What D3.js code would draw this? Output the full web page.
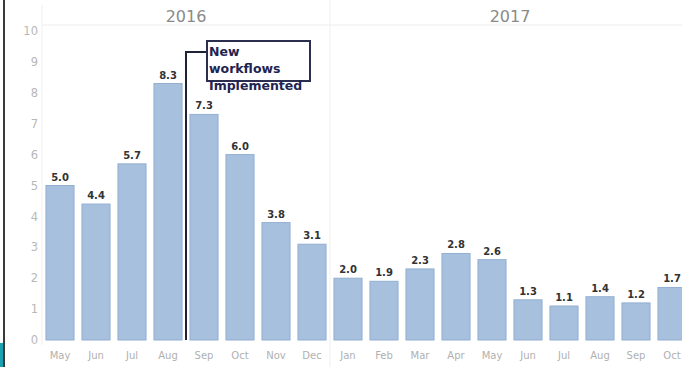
<!DOCTYPE html>
<html>
<head>
<meta charset="utf-8">
<script src="https://cdn.jsdelivr.net/npm/d3@7"></script>
<style>
  body { margin: 0; background: #fff; overflow: hidden; }
  text { font-family: "DejaVu Sans", sans-serif; }
</style>
</head>
<body>
<svg id="svg"></svg>
<script>
/* monthly values, May 2016 .. Oct 2017 */
const months2016 = ['May', 'Jun', 'Jul', 'Aug', 'Sep', 'Oct', 'Nov', 'Dec'];
const values2016 = [5.0, 4.4, 5.7, 8.3, 7.3, 6.0, 3.8, 3.1];
const months2017 = ['Jan', 'Feb', 'Mar', 'Apr', 'May', 'Jun', 'Jul', 'Aug', 'Sep', 'Oct'];
const values2017 = [2.0, 1.9, 2.3, 2.8, 2.6, 1.3, 1.1, 1.4, 1.2, 1.7];
const years = ['2016', '2017'];
const yTicks = [0, 1, 2, 3, 4, 5, 6, 7, 8, 9, 10];
const noteLines = ['New', 'workflows', 'Implemented'];

function createVisualization() {
  let w = 682, h = 367;
  let svg = d3.select('#svg').attr('width', w).attr('height', h);

  // flatten the two years into one row of bars
  let data = months2016.map((m, i) => ({ year: years[0], month: m, value: values2016[i] }))
    .concat(months2017.map((m, i) => ({ year: years[1], month: m, value: values2017[i] })));
  data.forEach((d, i) => d.key = i);

  let x = d3.scaleBand()
            .domain(data.map(d => d.key))
            .range([42, 42 + 36 * data.length])
            .paddingInner(0.22)
            .paddingOuter(0.11);

  let y = d3.scaleLinear().domain([0, 10]).range([340, 31]);

  // left frame edge
  svg.append('rect').attr('x', 0).attr('y', 343).attr('width', 4).attr('height', 24).style('fill', '#1ba2b2');
  svg.append('rect').attr('x', 3).attr('y', 0).attr('width', 2).attr('height', h).style('fill', '#3a3a3a');

  // header / pane lines
  let split = x(months2016.length) - x.step() * x.paddingInner() / 2;
  svg.append('line').attr('x1', 42).attr('x2', w).attr('y1', 25).attr('y2', 25)
     .style('stroke', '#ececec');
  svg.append('line').attr('x1', 42).attr('x2', 42).attr('y1', 5).attr('y2', 345)
     .style('stroke', '#f0f0f0');
  svg.append('line').attr('x1', split).attr('x2', split).attr('y1', 0).attr('y2', h)
     .style('stroke', '#efefef');

  // year headers
  let groupStart = { '2016': 42, '2017': split };
  let groupEnd = { '2016': split, '2017': x.range()[1] };
  svg.selectAll('text.year')
     .data(years)
     .enter()
     .append('text')
     .classed('year', true)
     .attr('x', d => (groupStart[d] + groupEnd[d]) / 2)
     .attr('y', 22)
     .attr('text-anchor', 'middle')
     .style('font-size', '16px')
     .style('fill', '#8a8a8a')
     .text(d => d);

  // y axis
  let yAxis = d3.axisLeft(y).tickValues(yTicks).tickSize(0).tickPadding(0);
  let ya = svg.append('g').attr('transform', 'translate(38,0)').call(yAxis);
  ya.select('.domain').remove();
  ya.selectAll('text').style('font-size', '11.5px').style('fill', '#b8b8b8')
    .style('font-family', '"DejaVu Sans", sans-serif');

  // bars
  svg.selectAll('rect.bar')
     .data(data)
     .enter()
     .append('rect')
     .classed('bar', true)
     .attr('x', d => x(d.key))
     .attr('y', d => y(d.value))
     .attr('width', x.bandwidth())
     .attr('height', d => y(0) - y(d.value))
     .style('fill', '#a7c0dd')
     .style('stroke', '#92afd2')
     .style('stroke-width', 1);

  // value labels
  svg.selectAll('text.val')
     .data(data)
     .enter()
     .append('text')
     .classed('val', true)
     .attr('x', d => x(d.key) + x.bandwidth() / 2)
     .attr('y', d => y(d.value) - 5)
     .attr('text-anchor', 'middle')
     .style('font-size', '10px')
     .style('font-weight', 'bold')
     .style('fill', '#333')
     .text(d => d.value.toFixed(1));

  // month labels
  svg.selectAll('text.month')
     .data(data)
     .enter()
     .append('text')
     .classed('month', true)
     .attr('x', d => x(d.key) + x.bandwidth() / 2)
     .attr('y', 359)
     .attr('text-anchor', 'middle')
     .style('font-size', '10px')
     .style('fill', '#b0b0b0')
     .text(d => d.month);

  // annotation between Aug and Sep 2016
  let lx = x(4) - x.step() * x.paddingInner() / 2;
  svg.append('path')
     .attr('d', `M${lx},${y(0)}V52H207`)
     .style('fill', 'none')
     .style('stroke', '#1f2235')
     .style('stroke-width', 2);
  svg.append('rect')
     .attr('x', 207).attr('y', 41).attr('width', 103).attr('height', 40)
     .style('fill', '#fff')
     .style('stroke', '#2c2e50')
     .style('stroke-width', 2);
  svg.selectAll('text.note')
     .data(noteLines)
     .enter()
     .append('text')
     .classed('note', true)
     .attr('x', 209)
     .attr('y', (d, i) => 56 + i * 17)
     .style('font-size', '12.5px')
     .style('font-weight', 'bold')
     .style('fill', '#1f2450')
     .text(d => d);
}

window.onload = createVisualization;
</script>
</body>
</html>
